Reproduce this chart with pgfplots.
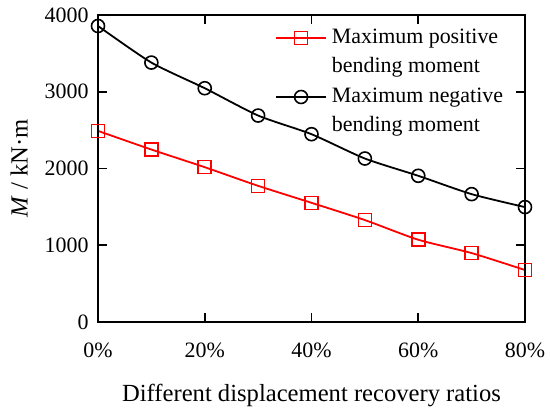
\documentclass[border=0pt]{standalone}
\usepackage{fontspec}
\setmainfont{Liberation Serif}
\usepackage{pgfplots}
\pgfplotsset{compat=1.18}
\begin{document}
\begin{tikzpicture}
\begin{axis}[
  name=ax,
  scale only axis,
  width=427bp, height=307bp,
  xmin=0, xmax=80, ymin=0, ymax=4000,
  xtick={0,20,40,60,80},
  xticklabels={0\%,20\%,40\%,60\%,80\%},
  ytick={0,1000,2000,3000,4000},
  /pgf/number format/assume math mode=true,
  /pgf/number format/1000 sep={},
  tick align=inside,
  major tick length=9bp,
  tick style={line width=1.6bp, black},
  axis line style={line width=1.8bp},
  axis on top=true,
  ticklabel style={font=\fontsize{22}{26}\selectfont},
  xticklabel style={yshift=-17bp},
  yticklabel style={xshift=-6bp},
  xlabel={Different displacement recovery ratios},
  ylabel={\textit{M} / kN·m},
  label style={font=\fontsize{24.7}{29}\selectfont},
  xlabel style={yshift=-20bp},
  ylabel style={yshift=10bp},
  legend style={at={(0.4075,0.965)}, anchor=north west, draw=none, fill=none,
    font=\fontsize{22}{26.5}\selectfont, row sep=9bp, column sep=5bp,
    nodes={inner sep=0pt, text height=15.5pt, text depth=5pt}},
  legend cell align=left,
  legend image code/.code={\draw[mark repeat=2,mark phase=2,#1] plot coordinates {(0bp,0bp)(25bp,0bp)(50bp,0bp)};},
]
\addplot[red, line width=1.8bp, smooth, tension=0.4, mark=square, mark size=6.5bp, mark options={fill=white, line width=1.6bp, solid}]
  coordinates {(0,2490)(10,2247)(20,2017)(30,1774)(40,1553)(50,1328)(60,1072)(70,898)(80,677)};
\addlegendentry{Maximum positive}
\addlegendimage{empty legend}
\addlegendentry{bending moment}
\addplot[black, line width=1.8bp, smooth, tension=0.4, mark=o, mark size=6.5bp, mark options={fill=white, line width=1.6bp, solid}]
  coordinates {(0,3857)(10,3380)(20,3046)(30,2690)(40,2447)(50,2130)(60,1905)(70,1666)(80,1497)};
\addlegendentry{Maximum negative}
\addlegendimage{empty legend}
\addlegendentry{bending moment}
\end{axis}
\pgfresetboundingbox
\path ([shift={(-98bp,-87bp)}]ax.south west) rectangle ([shift={(25bp,15bp)}]ax.north east);
\end{tikzpicture}
\end{document}
